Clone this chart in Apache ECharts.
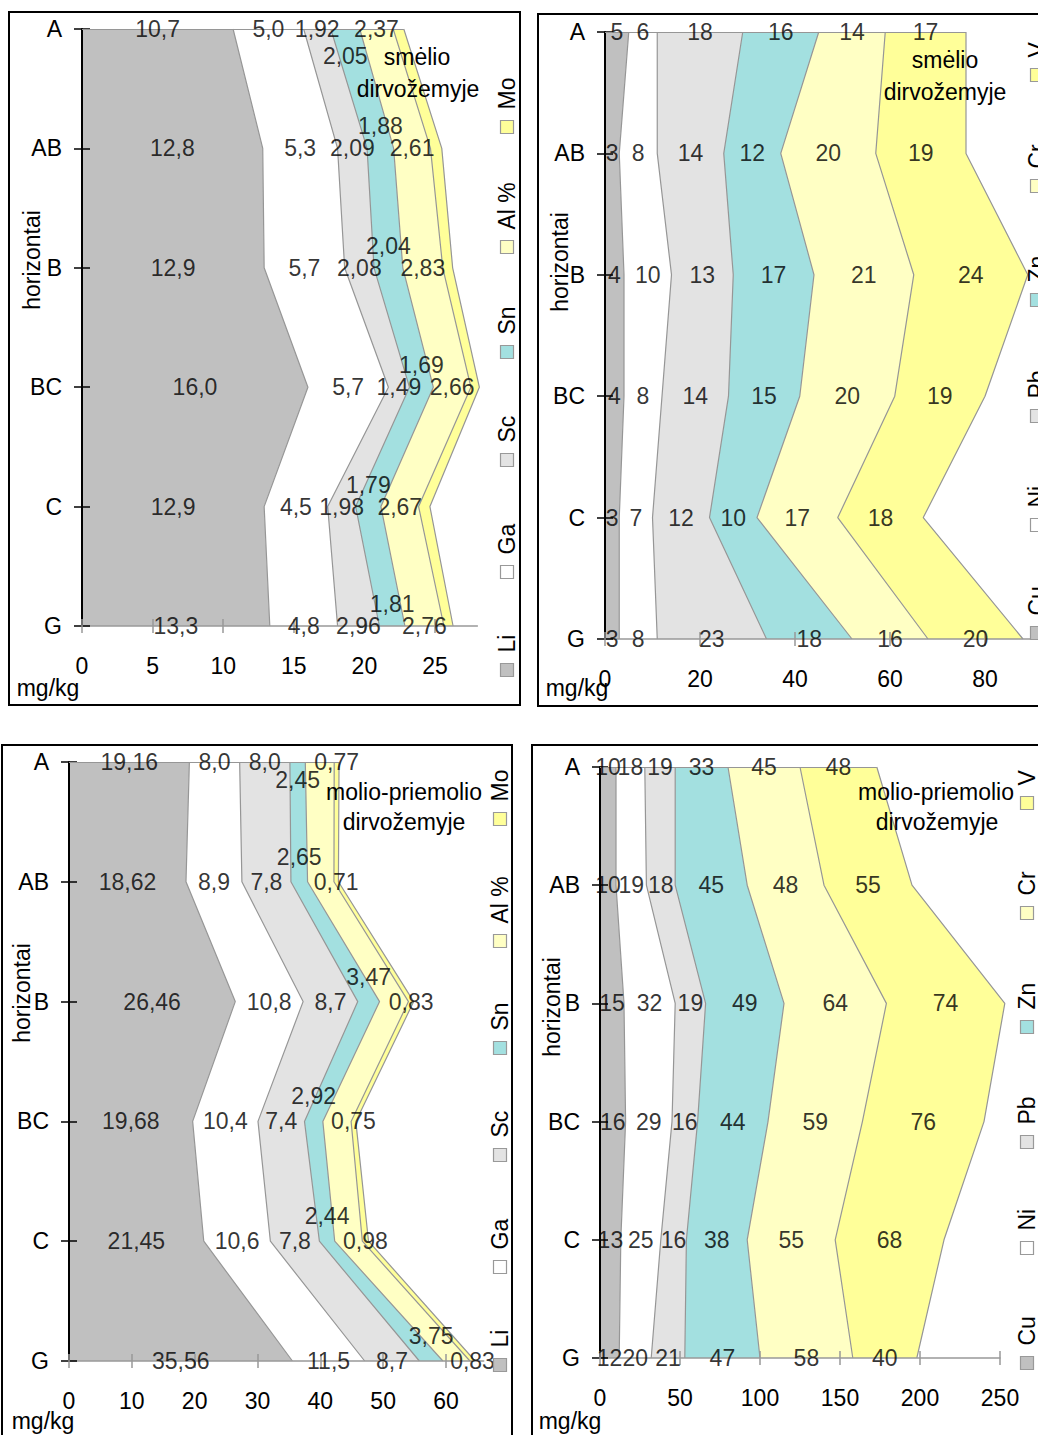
<!DOCTYPE html>
<html><head><meta charset="utf-8">
<script src="https://cdn.jsdelivr.net/npm/echarts@6/dist/echarts.min.js"></script>
<style>
html,body{margin:0;padding:0;width:1038px;height:1435px;overflow:hidden;background:#fff}
.p{position:absolute}
</style></head>
<body>
<div id="tl" class="p"></div>
<div id="tr" class="p"></div>
<div id="bl" class="p"></div>
<div id="br" class="p"></div>
<script>
// ---------- DATA ----------
const horizons = ['A', 'AB', 'B', 'BC', 'C', 'G'];

// top-left: smėlio dirvožemyje
const tlNames = ['Li', 'Ga', 'Sc', 'Sn', 'Al %', 'Mo'];
const tlLi = [10.7, 12.8, 12.9, 16.0, 12.9, 13.3];
const tlGa = [5.0, 5.3, 5.7, 5.7, 4.5, 4.8];
const tlSc = [1.92, 2.09, 2.08, 1.49, 1.98, 2.96];
const tlSn = [2.05, 1.88, 2.04, 1.69, 1.79, 1.81];
const tlAl = [2.37, 2.61, 2.83, 2.66, 2.67, 2.76];
const tlMo = [0.75, 0.8, 0.7, 0.6, 0.8, 0.65];
const tlTicks = [0, 5, 10, 15, 20, 25];

// top-right: smėlio dirvožemyje
const trNames = ['Cu', 'Ni', 'Pb', 'Zn', 'Cr', 'V'];
const trCu = [5, 3, 4, 4, 3, 3];
const trNi = [6, 8, 10, 8, 7, 8];
const trPb = [18, 14, 13, 14, 12, 23];
const trZn = [16, 12, 17, 15, 10, 18];
const trCr = [14, 20, 21, 20, 17, 16];
const trV = [17, 19, 24, 19, 18, 20];
const trTicks = [0, 20, 40, 60, 80];

// bottom-left: molio-priemolio dirvožemyje
const blNames = ['Li', 'Ga', 'Sc', 'Sn', 'Al %', 'Mo'];
const blLi = [19.16, 18.62, 26.46, 19.68, 21.45, 35.56];
const blGa = [8.0, 8.9, 10.8, 10.4, 10.6, 11.5];
const blSc = [8.0, 7.8, 8.7, 7.4, 7.8, 8.7];
const blSn = [2.45, 2.65, 3.47, 2.92, 2.44, 3.75];
const blAl = [4.6, 4.2, 4.6, 4.5, 4.4, 4.3];
const blMo = [0.77, 0.71, 0.83, 0.75, 0.98, 0.83];
const blTicks = [0, 10, 20, 30, 40, 50, 60];

// bottom-right: molio-priemolio dirvožemyje
const brNames = ['Cu', 'Ni', 'Pb', 'Zn', 'Cr', 'V'];
const brCu = [10, 10, 15, 16, 13, 12];
const brNi = [18, 19, 32, 29, 25, 20];
const brPb = [19, 18, 19, 16, 16, 21];
const brZn = [33, 45, 49, 44, 38, 47];
const brCr = [45, 48, 64, 59, 55, 58];
const brV = [48, 55, 74, 76, 68, 40];
const brTicks = [0, 50, 100, 150, 200, 250];

// ---------- STYLE ----------
const FONT = '"Liberation Sans", Arial, Helvetica, sans-serif';
const FS = 23;
const COLORS = ['#c0c0c0', '#ffffff', '#e3e3e3', '#a3e0e0', '#ffffc4', '#ffff99'];
const LINE = '#969696';

function fmt(v, d) { return v.toFixed(d).replace('.', ','); }

function txt(x, y, text, o) {
  o = o || {};
  return {
    type: 'text', x: x, y: y, rotation: o.rot || 0, z: 20, silent: true,
    style: {
      text: text, fill: '#000', font: FS + 'px ' + FONT,
      align: o.align || 'center', textAlign: o.align || 'center',
      verticalAlign: 'middle', textVerticalAlign: 'middle'
    }
  };
}

function build(cfg) {
  const el = document.getElementById(cfg.id);
  const L = cfg.box[0], T = cfg.box[1], W = cfg.box[2], H = cfg.box[3];
  el.style.left = L + 'px'; el.style.top = T + 'px';
  el.style.width = W + 'px'; el.style.height = H + 'px';
  const chart = echarts.init(el, null, { renderer: 'svg' });

  const n = horizons.length;
  const cum = new Array(n).fill(0);
  const series = [], labelSeries = [];
  cfg.values.forEach(function (vals, i) {
    const before = cum.slice();
    vals.forEach(function (v, j) { cum[j] += v; });
    series.push({
      type: 'line', name: cfg.names[i], stack: 'total', data: vals,
      showSymbol: false, symbol: 'none', clip: false, silent: true, z: 2,
      lineStyle: { color: LINE, width: 1.2 },
      itemStyle: { color: COLORS[i] },
      areaStyle: { color: COLORS[i], opacity: 1 }
    });
    if (cfg.dec[i] !== null) {
      labelSeries.push({
        type: 'scatter', silent: true, symbolSize: 1, clip: false, z: 5,
        itemStyle: { color: 'rgba(0,0,0,0)' },
        data: vals.map(function (v, j) {
          const item = { value: [before[j] + v / 2, horizons[j]] };
          if (cfg.raise && cfg.raise.idx === i) {
            item.label = { offset: [0, j === 0 ? cfg.raise.first : cfg.raise.dy] };
          }
          return item;
        }),
        label: {
          show: true, position: 'inside', color: '#000', fontSize: FS, fontFamily: FONT,
          formatter: function (p) { return fmt(vals[p.dataIndex], cfg.dec[i]); }
        }
      });
    }
  });
  // top edge of the stacked areas
  series[series.length - 1].markLine = {
    silent: true, symbol: ['none', 'none'], label: { show: false },
    lineStyle: { color: LINE, width: 1.2, type: 'solid' },
    data: [[{ coord: [0, horizons[0]] }, { coord: [cum[0], horizons[0]] }]]
  };

  const g = cfg.grid;
  const interval = cfg.ticks[1] - cfg.ticks[0];
  const tickStyle = { color: '#999', width: 1.5 };
  const graphic = [];
  graphic.push({
    type: 'rect', z: 30, silent: true,
    shape: { x: 1, y: 1, width: cfg.border[0], height: cfg.border[1] },
    style: { fill: 'none', stroke: '#000', lineWidth: 2 }
  });
  graphic.push(txt(cfg.mg[0] - L, cfg.mg[1] - T, 'mg/kg'));
  graphic.push(txt(cfg.hz[0] - L, cfg.hz[1] - T, 'horizontai', { rot: Math.PI / 2 }));
  graphic.push(txt(cfg.t1[0] - L, cfg.t1[1] - T, cfg.title[0]));
  graphic.push(txt(cfg.t2[0] - L, cfg.t2[1] - T, cfg.title[1]));
  cfg.names.forEach(function (nm, i) {
    const cx = cfg.legX - L, cy = cfg.legY[i] - T;
    graphic.push({
      type: 'rect', z: 20, silent: true,
      shape: { x: cx - 6.5, y: cy - 6.5, width: 13, height: 13 },
      style: { fill: COLORS[i], stroke: '#999', lineWidth: 1.2 }
    });
    graphic.push(txt(cx, cy - 6.5 - 11, nm, { rot: Math.PI / 2, align: 'left' }));
  });

  chart.setOption({
    animation: false,
    textStyle: { fontFamily: FONT },
    grid: { left: g[0], top: g[1], width: g[2], height: g[3] },
    xAxis: [{
      type: 'value', min: 0, max: cfg.max, interval: interval, position: 'bottom', z: 3,
      axisLine: { show: true, onZero: false, lineStyle: { color: '#999', width: 1.5 } },
      axisTick: { show: true, length: 7, lineStyle: tickStyle, customValues: cfg.ticks },
      axisLabel: { color: '#000', fontSize: FS, fontFamily: FONT, margin: 28,
        customValues: cfg.ticks },
      splitLine: { show: false }
    }, {
      type: 'value', min: 0, max: cfg.max, interval: interval, position: 'bottom', z: 3,
      axisLine: { show: false, onZero: false },
      axisTick: { show: true, inside: true, length: 7, lineStyle: tickStyle, customValues: cfg.ticks },
      axisLabel: { show: false },
      splitLine: { show: false }
    }],
    yAxis: [{
      type: 'category', data: horizons, inverse: true, boundaryGap: false, position: 'left', z: 3,
      axisLine: { show: true, onZero: false, lineStyle: { color: '#000', width: 2 } },
      axisTick: { show: true, length: 8, lineStyle: { color: '#000', width: 1.5 } },
      axisLabel: { color: '#000', fontSize: FS, fontFamily: FONT, margin: 20 },
      splitLine: { show: false }
    }, {
      type: 'category', data: horizons, inverse: true, boundaryGap: false, position: 'left', z: 3,
      axisLine: { show: false, onZero: false },
      axisTick: { show: true, inside: true, length: 8, lineStyle: { color: '#000', width: 1.5 } },
      axisLabel: { show: false },
      splitLine: { show: false }
    }],
    series: series.concat(labelSeries),
    graphic: graphic
  });
}

build({
  id: 'tl', box: [8, 11, 513, 695], border: [511, 693],
  grid: [74, 18, 28 * 14.12, 597], max: 28, ticks: tlTicks,
  names: tlNames, values: [tlLi, tlGa, tlSc, tlSn, tlAl, tlMo],
  dec: [1, 1, 2, 2, 2, null], raise: { idx: 3, dy: -22, first: 27 },
  title: ['smėlio', 'dirvožemyje'], t1: [417, 57], t2: [418, 89],
  mg: [48, 688], hz: [32, 260],
  legX: 507, legY: [670, 572, 460, 352, 247, 127]
});
build({
  id: 'tr', box: [537, 13, 560, 694], border: [620, 692],
  grid: [68, 19, 90 * 4.75, 607], max: 90, ticks: trTicks,
  names: trNames, values: [trCu, trNi, trPb, trZn, trCr, trV],
  dec: [0, 0, 0, 0, 0, 0], raise: null,
  title: ['smėlio', 'dirvožemyje'], t1: [945, 60], t2: [945, 92],
  mg: [577, 688], hz: [560, 262],
  legX: 1037, legY: [633, 525, 416, 300, 186, 75]
});
build({
  id: 'bl', box: [1, 744, 512, 720], border: [510, 800],
  grid: [68, 18, 66 * 6.283, 599], max: 66, ticks: blTicks,
  names: blNames, values: [blLi, blGa, blSc, blSn, blAl, blMo],
  dec: [2, 1, 1, 2, null, 2], raise: { idx: 3, dy: -25, first: 18 },
  title: ['molio-priemolio', 'dirvožemyje'], t1: [404, 792], t2: [404, 822],
  mg: [43, 1421], hz: [22, 993],
  legX: 500, legY: [1365, 1267, 1155, 1048, 941, 819]
});
build({
  id: 'br', box: [531, 744, 560, 720], border: [620, 800],
  grid: [69, 23, 400, 591], max: 250, ticks: brTicks,
  names: brNames, values: [brCu, brNi, brPb, brZn, brCr, brV],
  dec: [0, 0, 0, 0, 0, 0], raise: null,
  title: ['molio-priemolio', 'dirvožemyje'], t1: [936, 792], t2: [937, 822],
  mg: [570, 1421], hz: [552, 1007],
  legX: 1027, legY: [1363, 1248, 1142, 1027, 913, 803]
});
</script>
</body></html>
